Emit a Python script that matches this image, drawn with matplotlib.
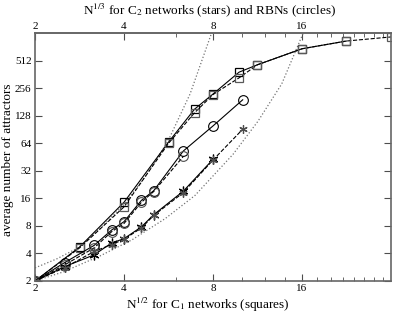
import numpy as np
import matplotlib
matplotlib.use("Agg")
from matplotlib import pyplot as plt
from matplotlib.ticker import FixedLocator, NullFormatter, NullLocator

plt.rcParams['font.family'] = ['Liberation Serif', 'DejaVu Serif']
plt.rcParams['mathtext.fontset'] = 'stix'

# C1 networks (squares), x = N^(1/2)
sq_x = [2, 2.83, 4, 5.66, 6.93, 8, 9.8, 11.3, 16, 22.6]
sq_y = [2, 4.7, 14.5, 66, 151, 221, 383, 461, 690, 838]
sq2_x = [2, 2.83, 4, 5.66, 6.93, 8, 9.8, 11.3, 16, 22.6, 32]
sq2_y = [2, 4.6, 12.9, 64, 138, 218, 332, 461, 690, 838, 929]

# RBNs (circles), x = N^(1/3)
ci_x = [2, 2.52, 3.17, 3.63, 4, 4.58, 5.04, 6.35, 8, 10.08]
ci_y = [2, 3.18, 4.9, 7.2, 8.9, 15.2, 19.4, 52.7, 99, 191]
ci2_x = [2, 2.52, 3.17, 3.63, 4, 4.58, 5.04, 6.35]
ci2_y = [2, 3.0, 4.6, 6.9, 8.5, 14.5, 19.0, 46]

# C2 networks (stars), x = N^(1/3)
st_x = [2, 2.52, 3.17, 3.63, 4, 4.58, 5.04, 6.35, 8]
st_y = [2, 2.87, 3.86, 5.2, 5.8, 7.8, 10.6, 19.2, 42.7]
st2_x = [2, 2.52, 3.17, 3.63, 4, 4.58, 5.04, 6.35, 8, 10.08]
st2_y = [2, 2.8, 4.2, 5.0, 5.7, 7.6, 10.4, 18.5, 42, 91]

# dotted fit curves
fit1_x = [2, 2.37, 2.81, 3.34, 4, 4.75, 5.63, 6.69, 7.94]
fit1_y = [2.78, 3.49, 4.64, 7.64, 13.7, 28.5, 67.3, 221, 1060]
fit2_x = [2, 2.49, 3.32, 4.26, 5.51, 6.95, 9.35, 11.36, 13.66, 16.38]
fit2_y = [2, 2.51, 3.76, 5.64, 9.6, 17.2, 48.5, 111.7, 285, 1144]

ticks = [2, 4, 8, 16]
minor = [6, 10, 12, 14, 18, 20, 22, 24, 26, 28, 30]
yticks = [2, 4, 8, 16, 32, 64, 128, 256, 512]

fig = plt.figure(figsize=(3.95, 3.18), dpi=100)
ax = fig.add_axes([0.0886, 0.1164, 0.9014, 0.7796])

ax.plot(fit1_x, fit1_y, ':', color='0.45', lw=0.9)
ax.plot(fit2_x, fit2_y, ':', color='0.45', lw=0.9)

ax.plot(sq_x, sq_y, '-', color='k', lw=0.8, marker='s', ms=6, mfc='none', mec='k', mew=0.9)
ax.plot(sq2_x, sq2_y, '--', color='k', lw=0.8, marker='s', ms=6, mfc='none', mec='0.35', mew=0.9)
ax.plot(ci_x, ci_y, '-', color='k', lw=0.8, marker='o', ms=7, mfc='none', mec='k', mew=0.8)
ax.plot(ci2_x, ci2_y, '--', color='k', lw=0.8, marker='o', ms=7, mfc='none', mec='0.3', mew=0.8)
ax.plot(st_x, st_y, '-', color='k', lw=0.8, marker=(6, 2, 0), ms=7, mec='k', mew=0.9)
ax.plot(st2_x, st2_y, '--', color='k', lw=0.8, marker=(6, 2, 0), ms=6, mec='0.3', mew=0.9)

ax.set_xscale('log', base=2)
ax.set_yscale('log', base=2)
ax.set_xlim(2, 32)
ax.set_ylim(2, 1024)

ax.xaxis.set_major_locator(FixedLocator(ticks))
ax.set_xticklabels([str(t) for t in ticks])
ax.xaxis.set_minor_locator(FixedLocator(minor))
ax.xaxis.set_minor_formatter(NullFormatter())
ax.yaxis.set_major_locator(FixedLocator(yticks))
ax.set_yticklabels([str(t) for t in yticks])
ax.yaxis.set_minor_locator(NullLocator())

ax.tick_params(which='both', direction='in', top=False, right=True, labelsize=8, color='0.3')
ax.tick_params(axis='x', pad=2.5)
ax.tick_params(axis='y', pad=2.5)
ax.tick_params(which='major', length=5)
ax.tick_params(which='minor', length=3)

top = ax.secondary_xaxis('top')
top.xaxis.set_major_locator(FixedLocator(ticks))
top.set_xticklabels([str(t) for t in ticks])
top.xaxis.set_minor_locator(FixedLocator(minor))
top.xaxis.set_minor_formatter(NullFormatter())
top.tick_params(which='both', direction='in', labelsize=8, color='0.3', pad=1.5)
top.tick_params(which='major', length=5)
top.tick_params(which='minor', length=3)

for s in ax.spines.values():
    s.set_color('0.4')
    s.set_linewidth(1.2)
top.spines['top'].set_color('0.4')
top.spines['top'].set_linewidth(1.2)

fig.text(0.53, 0.967, r'N$^{1/3}$ for C$_2$ networks (stars) and RBNs (circles)',
         fontsize=9.5, ha='center', va='center')
fig.text(0.527, 0.042, r'N$^{1/2}$ for C$_1$ networks (squares)',
         fontsize=9.5, ha='center', va='center')
fig.text(0.02, 0.497, 'average number of attractors', fontsize=9.5,
         rotation=90, ha='center', va='center')

fig.savefig('out.png', dpi=100)
